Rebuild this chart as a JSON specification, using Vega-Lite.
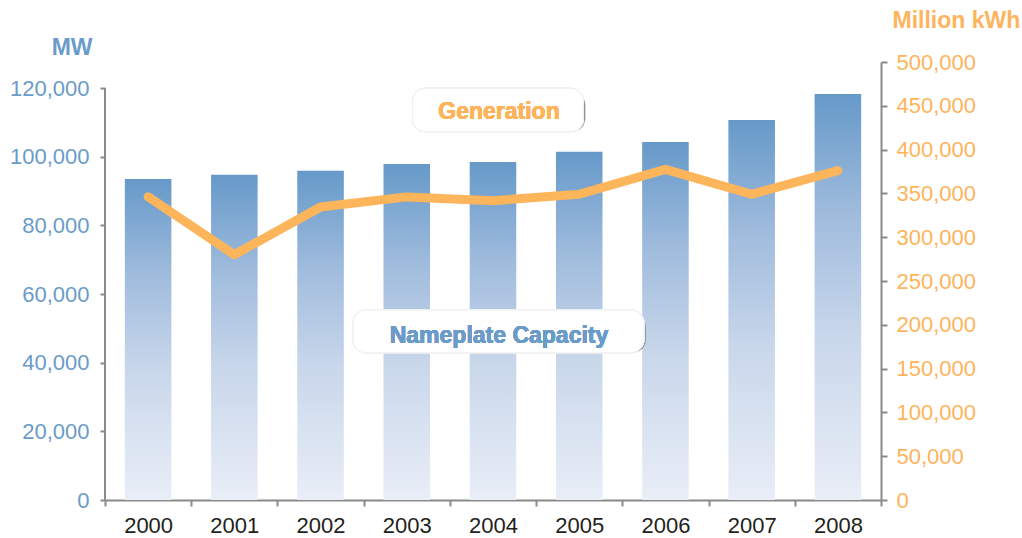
{
  "$schema": "https://vega.github.io/schema/vega-lite/v6.json",
  "width": 776,
  "height": 438,
  "autosize": "none",
  "padding": {"left": 105, "top": 62, "right": 141, "bottom": 38},
  "background": "white",
  "data": {
    "values": [
      {"year": "2000", "MW": 93500, "gen": 346200},
      {"year": "2001", "MW": 94700, "gen": 280000},
      {"year": "2002", "MW": 95900, "gen": 334500},
      {"year": "2003", "MW": 97900, "gen": 346000},
      {"year": "2004", "MW": 98450, "gen": 341700},
      {"year": "2005", "MW": 101400, "gen": 349000},
      {"year": "2006", "MW": 104300, "gen": 377500},
      {"year": "2007", "MW": 110700, "gen": 349000},
      {"year": "2008", "MW": 118250, "gen": 375900}
    ]
  },
  "encoding": {
    "x": {
      "field": "year",
      "type": "ordinal",
      "scale": {"paddingInner": 0, "paddingOuter": 0},
      "axis": {
        "title": null,
        "labelAngle": 0,
        "domainColor": "#8a8a8a",
        "domainWidth": 2,
        "tickColor": "#8a8a8a",
        "tickWidth": 2,
        "tickSize": 6,
        "tickBand": "extent",
        "labelFont": "Liberation Sans",
        "labelFontSize": 22,
        "labelColor": "#231f20",
        "labelPadding": 9
      }
    }
  },
  "layer": [
    {
      "layer": [
        {
          "mark": {
            "type": "bar",
            "width": {"band": 0.54},
            "color": {
              "gradient": "linear",
              "x1": 0, "y1": 0, "x2": 0, "y2": 1,
              "stops": [
                {"offset": 0, "color": "#6699c9"},
                {"offset": 0.3, "color": "#a0bcdd"},
                {"offset": 0.6, "color": "#c9d7eb"},
                {"offset": 1, "color": "#e9eef7"}
              ]
            }
          },
          "encoding": {
            "y": {
              "field": "MW",
              "type": "quantitative",
              "scale": {"domain": [0, 127573], "nice": false, "zero": true},
              "axis": {
                "orient": "left",
                "values": [0, 20000, 40000, 60000, 80000, 100000, 120000],
                "format": ",.0f",
                "grid": false,
                "domain": false,
                "tickColor": "#8a8a8a",
                "tickWidth": 2,
                "tickSize": 5,
                "labelPadding": 11,
                "labelFont": "Liberation Sans",
                "labelFontSize": 22,
                "labelColor": "#6a9bc9",
                "title": "MW",
                "titleAngle": 0,
                "titleAlign": "right",
                "titleBaseline": "alphabetic",
                "titleX": -13,
                "titleY": -8,
                "titleFont": "Liberation Sans",
                "titleFontSize": 23,
                "titleFontWeight": "bold",
                "titleColor": "#6a9bc9"
              }
            }
          }
        },
        {
          "mark": {"type": "rule", "color": "#8a8a8a", "strokeWidth": 2},
          "encoding": {
            "x": {"datum": "2000", "bandPosition": 0},
            "y": {"datum": 0},
            "y2": {"datum": 120000}
          }
        },
        {
          "mark": {"type": "rect", "width": 171, "cornerRadius": 13, "color": "#000000", "opacity": 0.03, "xOffset": 7, "yOffset": 4},
          "encoding": {
            "x": {"datum": "2004"},
            "y": {"datum": 119910},
            "y2": {"datum": 107270}
          }
        },
        {
          "mark": {"type": "rect", "width": 171, "cornerRadius": 13, "color": "#000000", "opacity": 0.05, "xOffset": 6, "yOffset": 2},
          "encoding": {
            "x": {"datum": "2004"},
            "y": {"datum": 119910},
            "y2": {"datum": 107270}
          }
        },
        {
          "mark": {"type": "rect", "width": 171, "cornerRadius": 13, "color": "#ffffff", "stroke": "#f0f0f0", "strokeWidth": 1, "xOffset": 5},
          "encoding": {
            "x": {"datum": "2004"},
            "y": {"datum": 119910},
            "y2": {"datum": 107270}
          }
        },
        {
          "mark": {"type": "rect", "width": 291, "cornerRadius": 13, "color": "#000000", "opacity": 0.03, "xOffset": 7.5, "yOffset": 4},
          "encoding": {
            "x": {"datum": "2004"},
            "y": {"datum": 55340},
            "y2": {"datum": 42900}
          }
        },
        {
          "mark": {"type": "rect", "width": 291, "cornerRadius": 13, "color": "#000000", "opacity": 0.05, "xOffset": 6.5, "yOffset": 2},
          "encoding": {
            "x": {"datum": "2004"},
            "y": {"datum": 55340},
            "y2": {"datum": 42900}
          }
        },
        {
          "mark": {"type": "rect", "width": 291, "cornerRadius": 13, "color": "#ffffff", "stroke": "#f0f0f0", "strokeWidth": 1, "xOffset": 5.5},
          "encoding": {
            "x": {"datum": "2004"},
            "y": {"datum": 55340},
            "y2": {"datum": 42900}
          }
        },
        {
          "mark": {"type": "text", "text": "Generation", "font": "Liberation Sans", "fontSize": 23, "fontWeight": "bold", "color": "#fdb45c", "align": "center", "baseline": "alphabetic", "xOffset": 6},
          "encoding": {
            "x": {"datum": "2004"},
            "y": {"datum": 110880}
          }
        },
        {
          "mark": {"type": "text", "text": "Nameplate Capacity", "font": "Liberation Sans", "fontSize": 23, "fontWeight": "bold", "color": "#6a9bc9", "align": "center", "baseline": "alphabetic", "xOffset": 6},
          "encoding": {
            "x": {"datum": "2004"},
            "y": {"datum": 45820}
          }
        }
      ]
    },
    {
      "mark": {"type": "line", "color": "#fdb55b", "strokeWidth": 9, "strokeCap": "round", "strokeJoin": "round"},
      "encoding": {
        "y": {
          "field": "gen",
          "type": "quantitative",
          "scale": {"domain": [0, 500000], "nice": false},
          "axis": {
            "orient": "right",
            "values": [0, 50000, 100000, 150000, 200000, 250000, 300000, 350000, 400000, 450000, 500000],
            "format": ",.0f",
            "grid": false,
            "domainColor": "#8a8a8a",
            "domainWidth": 2,
            "tickColor": "#8a8a8a",
            "tickWidth": 2,
            "tickSize": 6,
            "labelPadding": 9,
            "labelFont": "Liberation Sans",
            "labelFontSize": 22,
            "labelColor": "#fdb45c",
            "title": "Million kWh",
            "titleAngle": 0,
            "titleAlign": "left",
            "titleBaseline": "alphabetic",
            "titleX": 11,
            "titleY": -35,
            "titleFont": "Liberation Sans",
            "titleFontSize": 23,
            "titleFontWeight": "bold",
            "titleColor": "#fdb45c"
          }
        }
      }
    }
  ],
  "resolve": {"scale": {"y": "independent"}},
  "config": {"view": {"stroke": null}}
}
